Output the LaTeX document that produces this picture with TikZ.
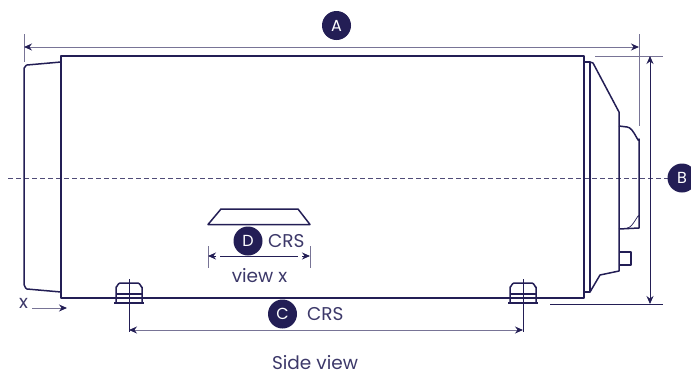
\documentclass[tikz,border=0pt]{standalone}
\usepackage{fontspec}
\setmainfont{Poppins}
\usetikzlibrary{arrows.meta, positioning, calc}
\definecolor{navy}{RGB}{35,30,85}
\definecolor{dimgray}{RGB}{120,116,150}
\definecolor{labelblue}{RGB}{60,56,105}

\begin{document}
\begin{tikzpicture}[x=1pt, y=-1pt,
    >={Stealth[length=8pt,width=7pt,color=navy]},
    outline/.style={draw=navy, line width=1.5pt, line join=round},
    thinline/.style={draw=dimgray, line width=1pt},
    dimline/.style={draw=navy, line width=0.9pt},
    badge/.style={circle, fill=navy, minimum size=29pt, inner sep=0pt, text=white, font=\fontsize{16}{16}\selectfont},
    label/.style={text=labelblue, inner sep=0pt, font=\fontsize{18.5}{20}\selectfont}]
\useasboundingbox (0,0) rectangle (691,376);

% Centre line
\coordinate (midL) at (8,178);
\coordinate (midR) at (668,178);
\draw[draw=navy!80, line width=0.7pt, dash pattern=on 5pt off 3pt] (midL) -- (midR);

% Body
\draw[outline] (61,56) rectangle (584,298);
% Left cap
\draw[outline] (61,62) -- (27,65) to[out=180,in=-90] (24,68) -- (24,285) to[out=90,in=180] (27,289) -- (61,292);
% Right cap
\draw[outline] (584,62) -- (590,62) -- (590,292) -- (584,292);
\draw[outline] (590,62) -- (593,63) -- (619,112) -- (619,271) -- (600,275) -- (590,292);
\draw[outline] (619,126) -- (627,127) to[out=0,in=-90] (639,139) -- (639,228) -- (619,229);
\draw[draw=navy, line width=0.7pt] (627,228) to[out=0,in=90] (639,217);
\draw[outline] (619,252) -- (631,252) -- (631,265) -- (619,265);

% Feet
\foreach \fx in {129, 523} {
    \draw[outline] (\fx-13,302) -- (\fx-13,287) to[out=-90,in=180] (\fx-9,283) -- (\fx+9,283) to[out=0,in=-90] (\fx+13,287) -- (\fx+13,302);
    \draw[outline] (\fx-13,294) -- (\fx+13,294);
    \draw[draw=navy, line width=2.2pt] (\fx-15,303) -- (\fx+15,303);
}

% Extension lines
\draw[thinline] (24,34) -- (24,62);
\draw[thinline] (639,34) -- (639,126);
\draw[thinline] (595,56) -- (663,56);
\draw[dimline] (550,304) -- (663,304);
\draw[dimline] (129,279) -- (129,332);
\draw[dimline] (523,279) -- (523,332);

% Part A
\node[badge] (a) at (336.5,25.5) {A};
\coordinate (aL) at (24,47);
\coordinate (aR) at (639,47);
\draw[thinline, <->] (aL) -- (aR);

% Part B
\node[badge] (b) at (682,178) {B};
\coordinate (bT) at (650,56);
\coordinate (bB) at (650,304);
\draw[dimline, <->] (bT) -- (bB);

% Part C
\node[badge] (c) at (282.5,314) {C};
\node[label, anchor=west] (ccrs) at (307,314) {CRS};
\coordinate (cL) at (129,330);
\coordinate (cR) at (523,330);
\draw[thinline, <->] (cL) -- (cR);

% Part D
\draw[outline] (208,224.5) -- (221,209) -- (298,209) -- (310,224.5) -- cycle;
\node[badge] (d) at (248,241) {D};
\node[label, anchor=west] (dcrs) at (268,241) {CRS};
\coordinate (dL) at (208,256);
\coordinate (dR) at (310,256);
\draw[thinline] (dL) ++(0,-10) -- ++(0,22);
\draw[thinline] (dR) ++(0,-10) -- ++(0,22);
\draw[dimline] (220,256) -- (298,256);
\draw[dimline, ->] (216,256) -- (dL);
\draw[dimline, ->] (302,256) -- (dR);
\node[label] (viewx) at (259.5,276) {view x};

% View arrow
\node[label] (x) at (23.5,303) {x};
\coordinate (xEnd) at (67,308);
\draw[thinline, ->] (32,308) -- (xEnd);

\node[label] (title) at (315,362.5) {Side view};
\end{tikzpicture}
\end{document}
